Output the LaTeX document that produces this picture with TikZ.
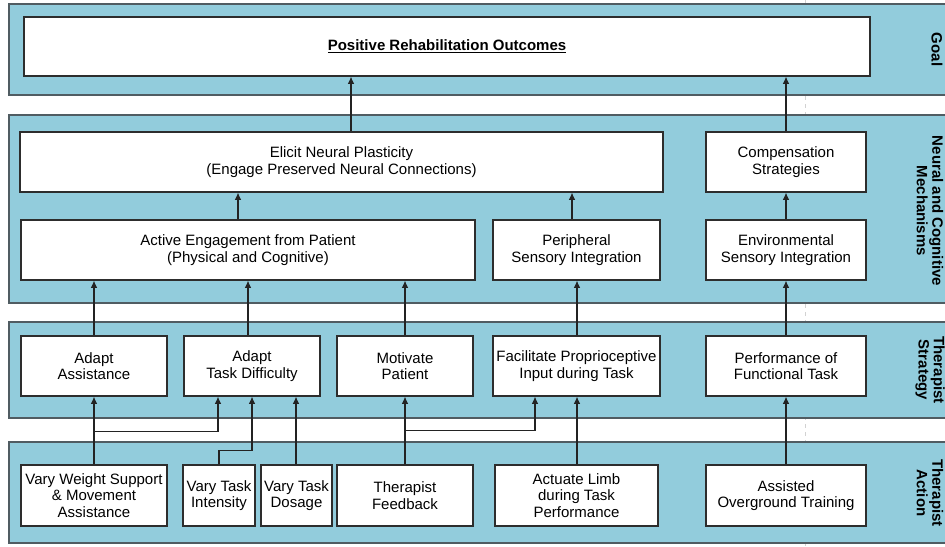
\documentclass[tikz,border=0pt]{standalone}
\usepackage{fontspec}
\setmainfont{Liberation Sans}
\usetikzlibrary{arrows.meta}
\definecolor{lanefill}{RGB}{146,204,220}
\definecolor{laneline}{RGB}{80,92,98}
\definecolor{boxline}{RGB}{45,45,45}
\definecolor{wire}{RGB}{35,35,35}
\tikzset{
  lane/.style={draw=laneline, line width=1.1pt, fill=lanefill},
  stepbox/.style={draw=boxline, line width=0.9pt, fill=white, inner sep=0pt,
    align=center, font=\fontsize{11.25}{12.5}\selectfont},
  lanelabel/.style={rotate=-90, align=center, inner sep=0pt,
    font=\fontsize{11.25}{11.5}\selectfont\bfseries},
  arr/.style={draw=wire, line width=0.8pt, -{Latex[length=5.5pt,width=5pt]}},
}
\begin{document}
\begin{tikzpicture}[x=0.75pt, y=-0.75pt]
\useasboundingbox (0,0) rectangle (945,546);
\fill[white] (0,0) rectangle (945,546);

% faint guide line behind the lanes
\draw[gray!35, dashed, line width=0.5pt] (805,0) -- (805,546);

% swimlanes
\draw[lane] (9,4) rectangle (960,95);
\draw[lane] (9,115) rectangle (960,303);
\draw[lane] (9,322) rectangle (960,418);
\draw[lane] (9,442) rectangle (960,543);

% lane titles
\node[lanelabel] (lgoal) at (937,49.5) {Goal};
\node[lanelabel] (lneural) at (930,211) {Neural and Cognitive\\Mechanisms};
\node[lanelabel] (lstrat) at (930,370) {Therapist\\Strategy};
\node[lanelabel] (lact) at (930,493) {Therapist\\Action};

% goal
\node[stepbox, minimum width=634.5pt, minimum height=44.25pt] (goalbox) at (447,46.5)
  {\textbf{\underline{Positive Rehabilitation Outcomes}}};

% neural and cognitive mechanisms
\node[stepbox, minimum width=482.25pt, minimum height=45pt] (elicit) at (341.5,162)
  {Elicit Neural Plasticity\\(Engage Preserved Neural Connections)};
\node[stepbox, minimum width=120pt, minimum height=45pt] (comp) at (786,162)
  {Compensation\\Strategies};
\node[stepbox, minimum width=340.5pt, minimum height=45pt] (active) at (248,250)
  {Active Engagement from Patient\\(Physical and Cognitive)};
\node[stepbox, minimum width=125.25pt, minimum height=45pt] (periph) at (576.5,250)
  {Peripheral\\Sensory Integration};
\node[stepbox, minimum width=120pt, minimum height=45pt] (envir) at (786,250)
  {Environmental\\Sensory Integration};

% therapist strategy
\node[stepbox, minimum width=109.5pt, minimum height=45pt] (adaptA) at (94,366)
  {Adapt\\Assistance};
\node[stepbox, minimum width=102pt, minimum height=45pt] (adaptT) at (252,366)
  {Adapt\\Task Difficulty};
\node[stepbox, minimum width=102pt, minimum height=45pt] (motiv) at (405,366)
  {Motivate\\Patient};
\node[stepbox, minimum width=125.25pt, minimum height=45pt] (facil) at (576.5,366)
  {Facilitate Proprioceptive\\Input during Task};
\node[stepbox, minimum width=120pt, minimum height=45pt] (perf) at (786,366)
  {Performance of\\Functional Task};

% therapist action
\node[stepbox, minimum width=109.5pt, minimum height=45.75pt] (weight) at (94,495.5)
  {Vary Weight Support\\\& Movement\\Assistance};
\node[stepbox, minimum width=54pt, minimum height=45.75pt] (inten) at (219,495.5)
  {Vary Task\\Intensity};
\node[stepbox, minimum width=53.25pt, minimum height=45.75pt] (dosage) at (296.5,495.5)
  {Vary Task\\Dosage};
\node[stepbox, minimum width=102pt, minimum height=45.75pt] (feedback) at (405,495.5)
  {Therapist\\Feedback};
\node[stepbox, minimum width=122.25pt, minimum height=45.75pt] (actuate) at (576.5,495.5)
  {Actuate Limb\\during Task\\Performance};
\node[stepbox, minimum width=120pt, minimum height=45.75pt] (assisted) at (786,495.5)
  {Assisted\\Overground Training};

% mechanisms to goal
\draw[arr] (351,0 |- elicit.north) -- (351,0 |- goalbox.south);
\draw[arr] (comp.north) -- (comp.north |- goalbox.south);

% within mechanisms
\draw[arr] (238,0 |- active.north) -- (238,0 |- elicit.south);
\draw[arr] (572,0 |- periph.north) -- (572,0 |- elicit.south);
\draw[arr] (envir.north) -- (comp.south);

% strategy to mechanisms
\draw[arr] (adaptA.north) -- (adaptA.north |- active.south);
\draw[arr] (248,0 |- adaptT.north) -- (248,0 |- active.south);
\draw[arr] (motiv.north) -- (motiv.north |- active.south);
\draw[arr] (577,0 |- facil.north) -- (577,0 |- periph.south);
\draw[arr] (perf.north) -- (envir.south);

% action to strategy
\draw[arr] (weight.north) -- (weight.north |- adaptA.south);
\draw[arr] (weight.north) -- ++(0,-33) -| (218,0 |- adaptT.south);
\draw[arr] (inten.north) -- ++(0,-14) -| (252,0 |- adaptT.south);
\draw[arr] (296,0 |- dosage.north) -- (296,0 |- adaptT.south);
\draw[arr] (feedback.north) -- (feedback.north |- motiv.south);
\draw[arr] (feedback.north) -- ++(0,-34) -| (535,0 |- facil.south);
\draw[arr] (577,0 |- actuate.north) -- (577,0 |- facil.south);
\draw[arr] (assisted.north) -- (perf.south);
\end{tikzpicture}
\end{document}
